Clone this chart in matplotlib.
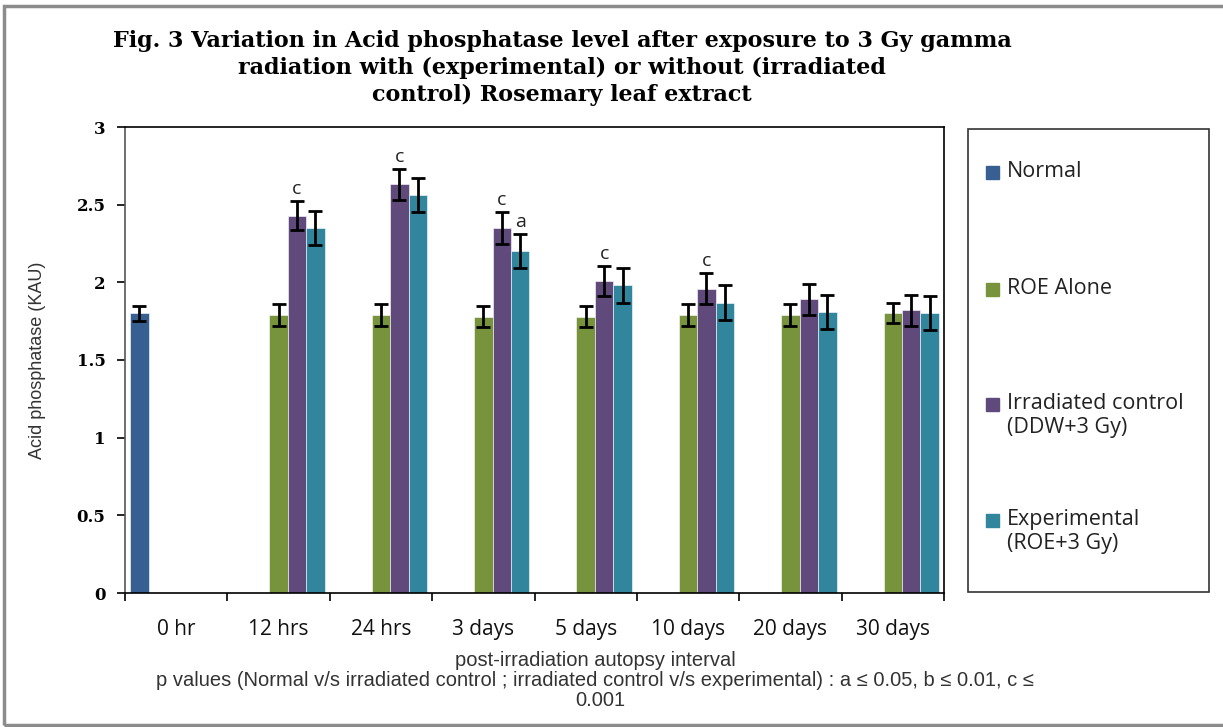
import matplotlib.pyplot as plt
from matplotlib.patches import Rectangle
import numpy as np

# Intervalles post-irradiation
intervals = ["0 hr", "12 hrs", "24 hrs", "3 days", "5 days", "10 days", "20 days", "30 days"]

# Valeurs moyennes (KAU) et erreurs standard
normal = [1.80, np.nan, np.nan, np.nan, np.nan, np.nan, np.nan, np.nan]
normal_err = [0.05, 0, 0, 0, 0, 0, 0, 0]
roe_alone = [np.nan, 1.79, 1.79, 1.78, 1.78, 1.79, 1.79, 1.80]
roe_alone_err = [0, 0.07, 0.07, 0.07, 0.07, 0.07, 0.07, 0.065]
irradiated = [np.nan, 2.43, 2.63, 2.35, 2.01, 1.96, 1.89, 1.82]
irradiated_err = [0, 0.095, 0.10, 0.10, 0.095, 0.10, 0.10, 0.10]
experimental = [np.nan, 2.35, 2.56, 2.20, 1.98, 1.87, 1.81, 1.80]
experimental_err = [0, 0.11, 0.11, 0.11, 0.11, 0.11, 0.11, 0.11]

# Niveaux de signification au-dessus des barres
irradiated_marks = ["", "c", "c", "c", "c", "c", "", ""]
experimental_marks = ["", "", "", "a", "", "", "", ""]

series = [
    ("Normal", normal, normal_err, "#375F91", 0),
    ("ROE Alone", roe_alone, roe_alone_err, "#77933C", 2),
    ("Irradiated control\n(DDW+3 Gy)", irradiated, irradiated_err, "#604A7B", 3),
    ("Experimental\n(ROE+3 Gy)", experimental, experimental_err, "#31859C", 4),
]

W, H = 1223, 727
fig = plt.figure(figsize=(W / 100, H / 100), dpi=100)

# Cadre gris autour de la figure
fig.patches.append(Rectangle((4 / W, 2 / H), 1.2, (H - 8) / H, transform=fig.transFigure,
                             fill=False, edgecolor="#8C8C8C", linewidth=2.5))

ax = fig.add_axes([125 / W, (H - 593) / H, 819 / W, 466 / H])

x = np.arange(len(intervals))
width = 0.18
for name, vals, errs, color, slot in series:
    pos = x + (slot - 2) * width
    ax.bar(pos, vals, width, color=color, edgecolor="white", linewidth=0.4,
           yerr=errs, capsize=5,
           error_kw=dict(ecolor="black", elinewidth=2, capthick=2))

# Lettres de significativité
for marks, vals, errs, slot in [(irradiated_marks, irradiated, irradiated_err, 3),
                                (experimental_marks, experimental, experimental_err, 4)]:
    for i, m in enumerate(marks):
        if m:
            ax.text(x[i] + (slot - 2) * width, vals[i] + errs[i] + 0.02, m,
                    ha="center", va="bottom", fontsize=14, family="Open Sans", color="#222222")

ax.set_xlim(-0.5, len(intervals) - 0.5)
ax.set_ylim(0, 3)
ax.set_yticks(np.arange(0, 3.01, 0.5))
ax.set_yticklabels(["0", "0.5", "1", "1.5", "2", "2.5", "3"],
                   fontsize=12, family="DejaVu Serif", fontweight="bold")
ax.set_xticks(x)
ax.set_xticklabels(intervals, fontsize=15, family="Open Sans", color="#111111")
ax.set_xticks(np.arange(-0.5, len(intervals)), minor=True)
ax.tick_params(axis="x", which="major", length=0, pad=19)
ax.tick_params(axis="x", which="minor", length=6, width=1.2, direction="out")
ax.tick_params(axis="y", length=6, width=1.2, pad=8)
for s in ax.spines.values():
    s.set_linewidth(1.2)
ax.spines["left"].set_color("#555555")

ax.set_ylabel("Acid phosphatase (KAU)", fontsize=13, family="Liberation Sans",
              color="#333333", labelpad=22)

# Légendes sous l'axe
note_kw = dict(ha="center", va="center", fontsize=14.5, family="Liberation Sans", color="#333333")
fig.text(595 / W, 1 - 660 / H, "post-irradiation autopsy interval", **note_kw)
fig.text(595 / W, 1 - 680 / H,
         "p values (Normal v/s irradiated control ; irradiated control v/s experimental) : a \u2264 0.05, b \u2264 0.01, c \u2264",
         **note_kw)
fig.text(600 / W, 1 - 700 / H, "0.001", **note_kw)

# Titre
fig.text(562 / W, 1 - 30 / H,
         "Fig. 3 Variation in Acid phosphatase level after exposure to 3 Gy gamma\n"
         "radiation with (experimental) or without (irradiated\n"
         "control) Rosemary leaf extract",
         ha="center", va="top", fontsize=16, family="DejaVu Serif", fontweight="bold",
         linespacing=1.3)

# Légende dessinée à droite
fig.patches.append(Rectangle((968 / W, 1 - 592 / H), 241 / W, 463 / H, transform=fig.transFigure,
                             fill=False, edgecolor="#333333", linewidth=1.2))
legend_y = [173, 290, 405, 521]
for (name, vals, errs, color, slot), ly in zip(series, legend_y):
    fig.patches.append(Rectangle((986 / W, 1 - (ly + 6) / H), 13 / W, 13 / H,
                                 transform=fig.transFigure, color=color))
    fig.text(1007 / W, 1 - (ly - 12) / H, name, ha="left", va="top", fontsize=15.5,
             family="Open Sans", color="#222222", linespacing=1.2)

plt.savefig("out.png", dpi=100, facecolor="white")
plt.close()
